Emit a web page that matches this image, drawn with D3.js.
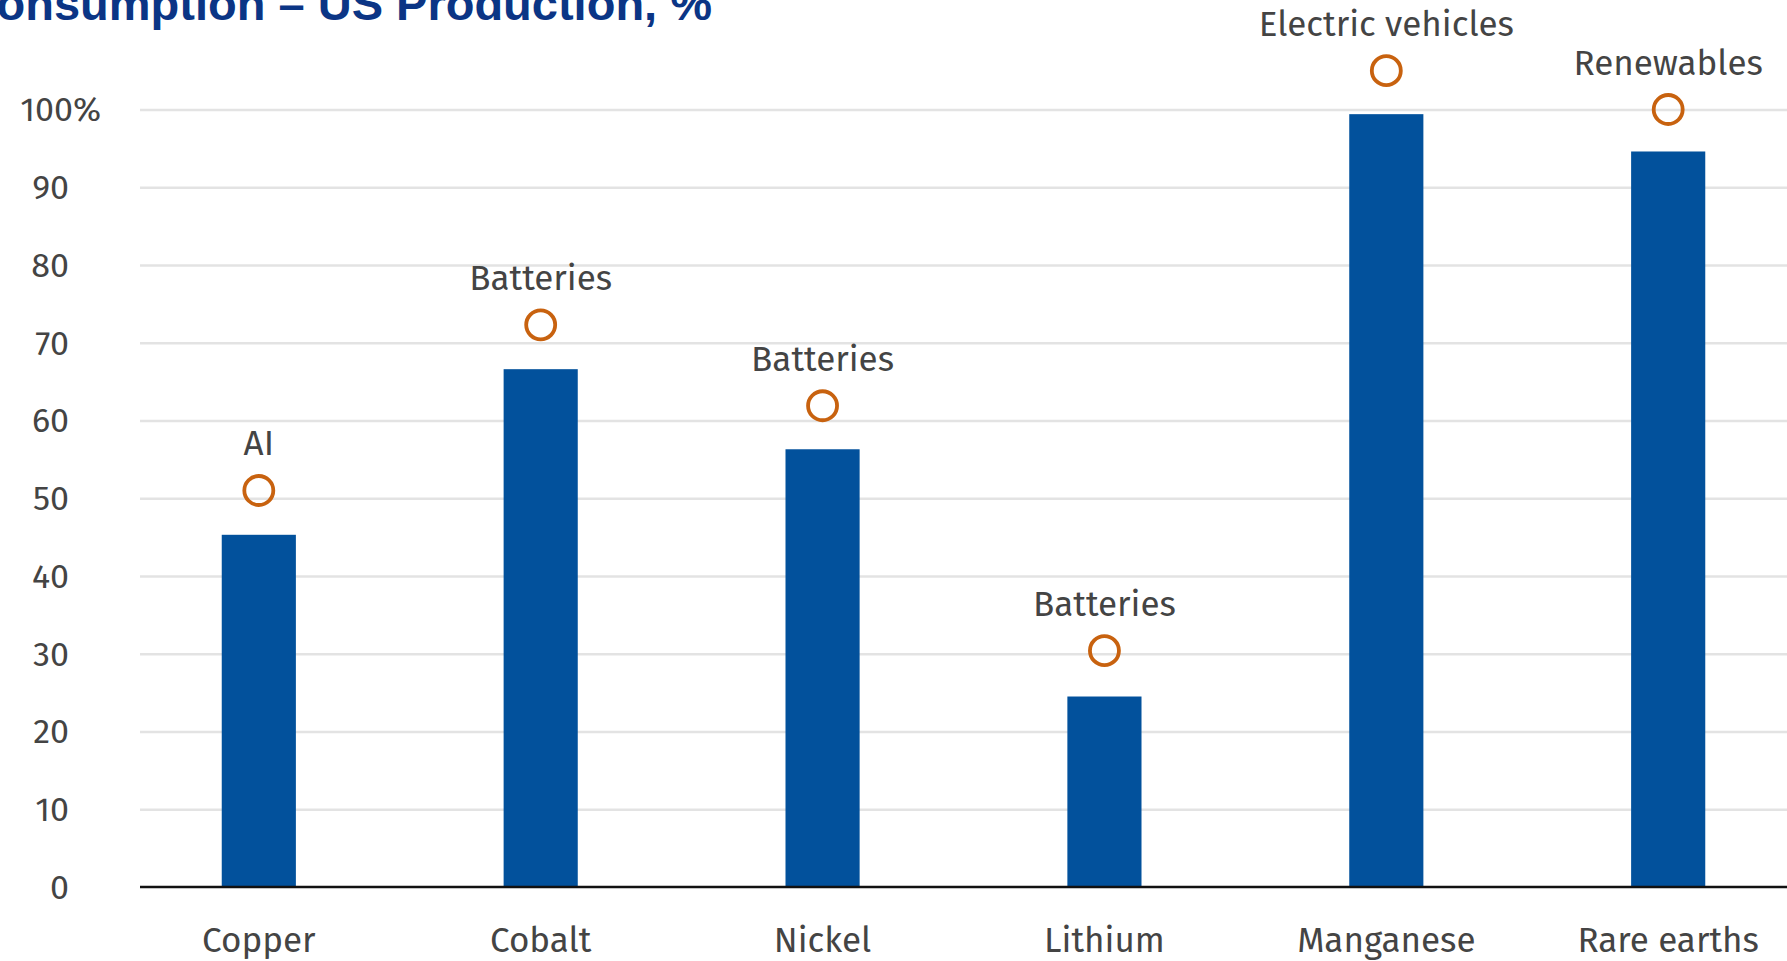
<!DOCTYPE html>
<html>
<head>
<meta charset="utf-8">
<script src="https://cdn.jsdelivr.net/npm/d3@7"></script>
<style>
  html, body { margin: 0; padding: 0; background: #ffffff; overflow: hidden; }
  svg { display: block; }
</style>
</head>
<body>
<svg id="chart" width="1787" height="961"></svg>
<script>
// Minerals and their import share
const categories = ["Copper", "Cobalt", "Nickel", "Lithium", "Manganese", "Rare earths"];
const shareValues = [45.3, 66.6, 56.3, 24.5, 99.4, 94.6];
// Marker position and the demand driver shown above each bar
const markerValues = [51.0, 72.3, 61.9, 30.4, 105.0, 100.0];
const driverLabels = ["AI", "Batteries", "Batteries", "Batteries", "Electric vehicles", "Renewables"];
const yTicks = [0, 10, 20, 30, 40, 50, 60, 70, 80, 90, 100];
const titleText = "Consumption \u2013 US Production, %";

const W = 1787, H = 961;
const plotLeft = 140, plotRight = 1787, plotTop = 109.5, plotBottom = 887;
const font = "'Fira Sans', 'Open Sans', 'Noto Sans', sans-serif";
const textColor = "#444444";

const svg = d3.select("#chart");

const x = d3.scaleBand()
  .domain(categories)
  .range([plotLeft, plotRight])
  .paddingInner(0.737)
  .paddingOuter(0.29);

const y = d3.scaleLinear().domain([0, 100]).range([plotBottom, plotTop]);

// Title (runs off the left edge)
svg.append("text")
  .attr("x", 712).attr("y", 20)
  .attr("text-anchor", "end")
  .attr("font-family", "'Liberation Sans', Arial, sans-serif")
  .attr("font-weight", "bold")
  .attr("font-size", 47)
  .attr("fill", "#0b3585")
  .text(titleText);

// Gridlines
const yAxis = d3.axisLeft(y).tickValues(yTicks).tickSize(-(plotRight - plotLeft)).tickFormat("");
const gGrid = svg.append("g").attr("transform", `translate(${plotLeft},0)`).call(yAxis);
gGrid.select(".domain").remove();
gGrid.selectAll(".tick line")
  .attr("stroke", d => d === 0 ? "none" : "#e3e3e3")
  .attr("stroke-width", 2.5);

// Y tick labels: numbers right-aligned, the top one carries the % sign
svg.append("g").selectAll("text")
  .data(yTicks)
  .join("text")
  .attr("x", d => d === 100 ? 101 : 69)
  .attr("y", d => y(d))
  .attr("dy", "0.35em")
  .attr("text-anchor", "end")
  .attr("font-family", font).attr("font-size", 34)
  .attr("fill", textColor)
  .text(d => d === 100 ? d + "%" : d);

// Bars
svg.append("g").selectAll("rect")
  .data(categories)
  .join("rect")
  .attr("x", d => x(d))
  .attr("width", x.bandwidth())
  .attr("y", (d, i) => y(shareValues[i]))
  .attr("height", (d, i) => y(0) - y(shareValues[i]))
  .attr("fill", "#02519c");

// Baseline
svg.append("line")
  .attr("x1", plotLeft).attr("x2", plotRight)
  .attr("y1", y(0)).attr("y2", y(0))
  .attr("stroke", "#111111").attr("stroke-width", 2.5);

// Markers
const cx = d => x(d) + x.bandwidth() / 2;
svg.append("g").selectAll("circle")
  .data(categories)
  .join("circle")
  .attr("cx", cx)
  .attr("cy", (d, i) => y(markerValues[i]))
  .attr("r", 14.5)
  .attr("fill", "none")
  .attr("stroke", "#c8620f")
  .attr("stroke-width", 3.8);

// Driver labels
svg.append("g").selectAll("text")
  .data(categories)
  .join("text")
  .attr("x", cx)
  .attr("y", (d, i) => y(markerValues[i]) - 35)
  .attr("text-anchor", "middle")
  .attr("font-family", font).attr("font-size", 35)
  .attr("fill", textColor)
  .text((d, i) => driverLabels[i]);

// X axis labels
svg.append("g").selectAll("text")
  .data(categories)
  .join("text")
  .attr("x", cx)
  .attr("y", 952)
  .attr("text-anchor", "middle")
  .attr("font-family", font).attr("font-size", 35)
  .attr("fill", textColor)
  .text(d => d);
</script>
</body>
</html>
